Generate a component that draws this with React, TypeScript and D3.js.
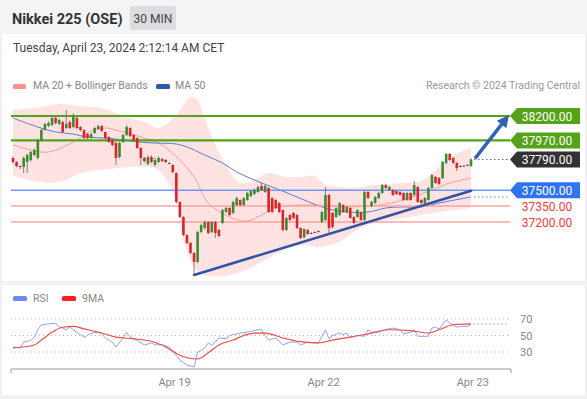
import * as d3 from 'd3';

// candles: [open, high, low, close], 30 min bars
const ohlc: [number, number, number, number][] = [
  [37804, 37820, 37750, 37766], [37766, 37775, 37715, 37728], [37728, 37735, 37700, 37719], [37719, 37815, 37662, 37804],
  [37766, 37845, 37662, 37832], [37785, 37870, 37770, 37860], [37832, 37895, 37820, 37879], [37804, 37985, 37790, 37974],
  [37974, 38080, 37960, 38068], [38068, 38135, 38060, 38125], [38106, 38150, 38095, 38134], [38115, 38200, 38105, 38181],
  [38181, 38195, 38120, 38134], [38125, 38175, 38115, 38162], [38143, 38155, 38040, 38049], [38087, 38257, 38075, 38125],
  [38143, 38160, 38075, 38087], [38096, 38228, 38085, 38191], [38181, 38195, 38075, 38087], [38096, 38105, 38055, 38068],
  [38068, 38075, 37980, 37992], [38030, 38040, 37980, 37992], [37992, 38040, 37985, 38030], [38040, 38095, 38030, 38087],
  [38077, 38120, 38070, 38106], [38106, 38115, 38050, 38058], [38049, 38055, 37980, 37992], [38002, 38010, 37945, 37955],
  [37974, 37985, 37915, 37926], [37945, 37955, 37738, 37804], [37813, 37955, 37800, 37945], [37955, 38030, 37945, 38021],
  [38021, 38115, 38010, 38096], [38087, 38095, 38000, 38011], [38021, 38030, 37965, 37974], [37992, 38000, 37890, 37898],
  [37898, 37905, 37738, 37804], [37804, 37815, 37760, 37775], [37747, 37830, 37735, 37813], [37813, 37830, 37755, 37766],
  [37738, 37810, 37725, 37785], [37766, 37820, 37755, 37804], [37794, 37805, 37765, 37775], [37785, 37795, 37755, 37766],
  [37757, 37765, 37745, 37752], [37738, 37745, 37660, 37672], [37662, 37670, 37375, 37389], [37389, 37395, 37235, 37247],
  [37247, 37255, 37065, 37077], [37077, 37085, 36990, 37002], [37002, 37010, 36895, 36908], [36908, 36915, 36700, 36823],
  [36823, 37115, 36810, 37106], [37106, 37185, 37095, 37172], [37143, 37215, 37130, 37200], [37200, 37210, 37085, 37096],
  [37106, 37210, 37095, 37200], [37200, 37210, 37049, 37096], [37125, 37135, 37055, 37068], [37191, 37325, 37180, 37313],
  [37294, 37345, 37285, 37332], [37332, 37340, 37255, 37266], [37285, 37400, 37275, 37389], [37360, 37440, 37350, 37426],
  [37408, 37415, 37350, 37360], [37360, 37435, 37350, 37426], [37408, 37485, 37400, 37474], [37445, 37500, 37435, 37492],
  [37464, 37515, 37455, 37502], [37483, 37545, 37475, 37530], [37540, 37568, 37495, 37502], [37483, 37550, 37475, 37540],
  [37521, 37530, 37285, 37294], [37426, 37435, 37285, 37294], [37408, 37415, 37320, 37332], [37379, 37390, 37285, 37294],
  [37313, 37320, 37110, 37125], [37125, 37245, 37115, 37238], [37266, 37275, 37210, 37219], [37285, 37295, 37225, 37238],
  [37266, 37275, 37135, 37143], [37143, 37150, 37040, 37049], [37058, 37140, 37045, 37134], [37125, 37135, 37080, 37087],
  [37096, 37105, 37085, 37092], [37106, 37110, 37095, 37101], [37115, 37120, 37100, 37110], [37200, 37305, 37190, 37294],
  [37219, 37530, 37210, 37455], [37455, 37465, 37077, 37143], [37285, 37295, 37140, 37153], [37247, 37340, 37240, 37332],
  [37266, 37390, 37255, 37379], [37360, 37370, 37285, 37294], [37294, 37350, 37285, 37342], [37332, 37340, 37230, 37238],
  [37247, 37255, 37180, 37191], [37247, 37320, 37240, 37313], [37294, 37300, 37210, 37219], [37219, 37495, 37210, 37483],
  [37483, 37495, 37415, 37426], [37351, 37400, 37340, 37389], [37379, 37445, 37370, 37436], [37426, 37485, 37415, 37474],
  [37474, 37560, 37465, 37549], [37549, 37560, 37510, 37521], [37502, 37540, 37495, 37530], [37502, 37510, 37445, 37455],
  [37492, 37500, 37455, 37464], [37483, 37490, 37445, 37455], [37474, 37480, 37400, 37408], [37408, 37485, 37400, 37474],
  [37474, 37480, 37400, 37408], [37455, 37587, 37445, 37549], [37530, 37540, 37380, 37389], [37408, 37415, 37370, 37379],
  [37379, 37435, 37370, 37426], [37408, 37530, 37400, 37521], [37521, 37655, 37510, 37643], [37625, 37635, 37560, 37568],
  [37615, 37625, 37550, 37558], [37615, 37775, 37605, 37766], [37757, 37850, 37745, 37842], [37842, 37850, 37775, 37785],
  [37804, 37815, 37745, 37757], [37757, 37765, 37681, 37709], [37728, 37735, 37715, 37723], [37728, 37738, 37720, 37732],
  [37735, 37745, 37730, 37740], [37728, 37800, 37720, 37790],
];

// indicator readings: [bar index, value]
const ma20 = [
  [0, 37926], [5, 37879], [10, 37860], [17, 37955], [21, 38040], [26, 38087], [29, 38068], [32, 38040], [37, 37992],
  [42, 37926], [47, 37785], [51, 37625], [55, 37379], [61, 37247], [66, 37209], [70, 37266], [75, 37342], [85, 37360],
  [94, 37342], [103, 37360], [110, 37408], [118, 37502], [123, 37568], [129, 37615],
];
const ma50 = [
  [0, 38181], [7, 38096], [12, 38049], [17, 38030], [21, 38002], [26, 37992], [31, 37974], [35, 37955], [40, 37945],
  [46, 37936], [49, 37908], [54, 37832], [59, 37757], [63, 37672], [68, 37596], [73, 37530], [78, 37464], [82, 37408],
  [87, 37342], [90, 37313], [94, 37294], [100, 37294], [105, 37332], [109, 37342], [115, 37342], [120, 37379], [129, 37436],
];
const bbUpper = [
  [0, 38257], [8, 38285], [13, 38313], [19, 38294], [25, 38275], [29, 38228], [33, 38181], [37, 38143], [41, 38087],
  [44, 38143], [47, 38257], [50, 38379], [52, 38351], [54, 38181], [57, 37926], [60, 37738], [64, 37568], [68, 37596],
  [72, 37662], [77, 37625], [81, 37625], [85, 37634], [88, 37549], [92, 37530], [96, 37521], [102, 37549], [109, 37568],
  [115, 37587], [119, 37691], [123, 37804], [129, 37908],
];
const bbLower = [
  [0, 37634], [10, 37568], [15, 37596], [19, 37662], [25, 37691], [33, 37719], [39, 37719], [41, 37691], [46, 37408],
  [48, 37030], [51, 36766], [54, 36700], [61, 36700], [67, 36766], [72, 36860], [78, 36955], [82, 36983], [86, 36964],
  [92, 37011], [96, 37106], [100, 37172], [106, 37219], [110, 37238], [115, 37266], [120, 37294], [129, 37332],
];

const rsi = [
  [0, 36], [2, 35], [3, 42], [5, 44], [6, 48], [7, 57], [8, 63], [10, 64], [12, 65], [13, 60], [14, 59], [15, 57],
  [16, 60], [17, 57], [18, 54], [20, 48], [21, 50], [22, 53], [24, 54], [25, 52], [26, 47], [28, 42], [29, 36],
  [31, 47], [32, 54], [33, 48], [35, 44], [37, 38.5], [39, 41], [40, 38.5], [42, 39], [44, 36], [46, 26], [47, 20],
  [49, 14], [51, 12], [52, 30], [53, 32], [54, 35], [55, 41], [56, 38], [58, 47], [60, 46], [61, 50], [64, 53],
  [66, 54], [69, 57], [70, 57], [71, 50], [72, 44.5], [74, 47], [76, 38.5], [78, 42], [80, 42], [81, 38.5], [83, 42],
  [85, 41], [86, 41], [88, 57], [89, 46], [90, 50], [92, 53], [93, 51], [94, 53], [95, 48], [97, 50], [99, 49],
  [100, 57], [101, 54], [103, 54], [105, 57.5], [107, 59], [109, 57], [110, 52], [112, 54], [113, 57], [114, 49],
  [117, 49], [118, 59], [119, 60], [120, 58], [122, 69], [123, 65], [125, 60], [126, 61], [128, 61], [129, 64],
];
const rsiMa = [
  [0, 35], [6, 38.5], [8, 44.5], [11, 54], [14, 60], [17, 61], [20, 58], [25, 53], [29, 48], [34, 46], [39, 43],
  [43, 36], [47, 26], [49, 23], [52, 21.5], [55, 29], [58, 38.5], [62, 44.5], [65, 50], [68, 53], [71, 53], [76, 47],
  [81, 42.5], [86, 41], [90, 44.5], [95, 48], [100, 52], [106, 57], [112, 56], [117, 53], [120, 57], [124, 63], [129, 64],
];
const rsiLevels = [70, 50, 30];

const resistances = [38200, 37970];
const pivot = 37500;
const supports = [37350, 37200];
const targetPrice = 38200;
const trendFrom = [51, 36700];
const trendTo = [129, 37495];

const xTickIdx = [45.5, 87.5, 129.5];
const xTickLabels = ['Apr 19', 'Apr 22', 'Apr 23'];

const FONT = "Roboto, 'Liberation Sans', Arial, sans-serif";
const GREEN = '#55a318';
const UP = '#3a8c30';
const DOWN = '#d8262b';

function Tag({ y, text, fill }: { y: number; text: string; fill: string }) {
  const h = 8;
  const pts = [[510, y], [517, y - h], [580, y - h], [580, y + h], [517, y + h]];
  return (
    <g>
      <polygon points={pts.map(p => p.join(',')).join(' ')} fill={fill} />
      <text x={547} y={y + 4.5} fill="#fff" fontSize={12} textAnchor="middle">{text}</text>
    </g>
  );
}

export default function App() {
  const x = d3.scaleLinear().domain([0, ohlc.length - 1]).range([13, 471]);
  const y = d3.scaleLinear().domain([37200, 38200]).range([222, 116]);
  const yR = d3.scaleLinear().domain([30, 70]).range([352, 319]);

  const smooth = d3.line<number[]>().x(d => x(d[0])).y(d => y(d[1])).curve(d3.curveCatmullRom);
  const bandPath = smooth(bbUpper) + 'L' + (smooth(bbLower.slice().reverse()) || '').slice(1) + 'Z';
  const rsiLine = d3.line<number[]>().x(d => x(d[0])).y(d => yR(d[1]));
  const rsiMaLine = d3.line<number[]>().x(d => x(d[0])).y(d => yR(d[1])).curve(d3.curveMonotoneX);

  const last = ohlc[ohlc.length - 1];
  const lastPrice = last[3];
  const lastX = x(ohlc.length - 1);
  const lastMa50 = ma50[ma50.length - 1][1];
  const lastRsi = rsi[rsi.length - 1][1];

  // arrow towards target
  const ax0 = lastX + 4, ay0 = y(lastPrice) - 1;
  const ax1 = 509, ay1 = y(targetPrice) - 1;
  const ang = Math.atan2(ay1 - ay0, ax1 - ax0);
  const hl = 12, hw = 6;
  const bx = ax1 - hl * Math.cos(ang), by = ay1 - hl * Math.sin(ang);
  const head = [
    [ax1, ay1],
    [bx + hw * Math.sin(ang), by - hw * Math.cos(ang)],
    [bx - hw * Math.sin(ang), by + hw * Math.cos(ang)],
  ];

  const cw = 2.6;

  return (
    <svg width={587} height={399} style={{ position: 'absolute', left: 0, top: 0, fontFamily: FONT }}>
      <rect width={587} height={399} fill="#fff" />
      {/* header */}
      <rect width={587} height={34} fill="#f4f4f4" />
      <text x={12} y={24} fontSize={14.5} fontWeight="bold" fill="#333">Nikkei 225 (OSE)</text>
      <rect x={130} y={6} width={46} height={24} rx={2} fill="#dcdde1" />
      <text x={153} y={22.5} fontSize={12} fill="#444" textAnchor="middle">30 MIN</text>
      <text x={13} y={52} fontSize={12} fill="#444">Tuesday, April 23, 2024 2:12:14 AM CET</text>
      {/* frame */}
      <rect x={0} y={34} width={2} height={365} fill="#f0f0f0" />
      <rect x={585} y={34} width={2} height={365} fill="#f0f0f0" />
      <rect x={0} y={281} width={587} height={4} fill="#f2f2f2" />
      <rect x={0} y={395} width={587} height={4} fill="#f2f2f2" />

      {/* legend */}
      <rect x={13} y={84} width={13} height={5} rx={1.5} fill="#ff8f8f" />
      <text x={33} y={89} fontSize={10.5} fill="#888">MA 20 + Bollinger Bands</text>
      <rect x={156} y={84} width={14} height={5} rx={1.5} fill="#2d5ba8" />
      <text x={175} y={89} fontSize={10.5} fill="#888">MA 50</text>
      <text x={580} y={89} fontSize={10.5} fill="#999" textAnchor="end">Research © 2024 Trading Central</text>

      {/* bands + averages */}
      <path d={bandPath} fill="#ffdcdc" opacity={0.8} />
      <path d={smooth(ma20) || ''} fill="none" stroke="#ff9b9b" strokeWidth={1} />
      <path d={smooth(ma50) || ''} fill="none" stroke="#5b7ec4" strokeWidth={1} />
      <line x1={lastX + 3} x2={508} y1={y(lastMa50)} y2={y(lastMa50)} stroke="#6d8fd0" strokeDasharray="1.5,2.5" />

      {/* levels */}
      {resistances.map(v => (
        <line key={v} x1={11} x2={510} y1={y(v)} y2={y(v)} stroke={GREEN} strokeWidth={2.2} />
      ))}
      <line x1={11} x2={510} y1={y(pivot)} y2={y(pivot)} stroke="#6d9af5" strokeWidth={1.5} />
      {supports.map(v => (
        <line key={v} x1={11} x2={510} y1={y(v)} y2={y(v)} stroke="#ffa3a3" strokeWidth={1.5} />
      ))}
      <line x1={lastX + 3} x2={508} y1={y(lastPrice)} y2={y(lastPrice)} stroke="#666" strokeDasharray="1.5,2.5" />

      {/* trend line */}
      <line x1={x(trendFrom[0])} y1={y(trendFrom[1])} x2={x(trendTo[0])} y2={y(trendTo[1])}
        stroke="#2f54a0" strokeWidth={2.5} strokeLinecap="round" />

      {/* candles */}
      {ohlc.map((d, i) => {
        const [o, h, l, c] = d;
        const cx = x(i);
        const col = Math.abs(c - o) < 8 ? '#555' : c > o ? UP : DOWN;
        const top = y(Math.max(o, c));
        const bh = Math.max(1, y(Math.min(o, c)) - top);
        return (
          <g key={i}>
            <line x1={cx} x2={cx} y1={y(h)} y2={y(l)} stroke="#666" strokeWidth={0.8} />
            <rect x={cx - cw / 2} y={top} width={cw} height={bh} fill={col} />
          </g>
        );
      })}

      {/* arrow */}
      <line x1={ax0} y1={ay0} x2={bx} y2={by} stroke="#2f62b0" strokeWidth={3.5} />
      <polygon points={head.map(p => p.join(',')).join(' ')} fill="#2f62b0" />

      {/* price tags */}
      {resistances.map(v => <Tag key={v} y={y(v)} text={v.toFixed(2)} fill={GREEN} />)}
      <Tag y={y(lastPrice)} text={lastPrice.toFixed(2)} fill="#333" />
      <Tag y={y(pivot)} text={pivot.toFixed(2)} fill="#2f74ee" />
      {supports.map(v => (
        <text key={v} x={547} y={y(v) + 4.5} fontSize={12} fill="#f03c3c" textAnchor="middle">{v.toFixed(2)}</text>
      ))}

      {/* RSI panel */}
      <rect x={13} y={296} width={14} height={5} rx={1.5} fill="#6a8ef0" />
      <text x={33} y={302} fontSize={10.5} fill="#888">RSI</text>
      <rect x={62} y={296} width={14} height={5} rx={1.5} fill="#ff2020" />
      <text x={82} y={302} fontSize={10.5} fill="#888">9MA</text>
      {rsiLevels.map(v => (
        <g key={v}>
          <line x1={11} x2={508} y1={yR(v)} y2={yR(v)} stroke="#bbb" strokeDasharray="1,3" />
          <text x={520} y={yR(v) + 4} fontSize={11} fill="#888">{v}</text>
        </g>
      ))}
      <path d={rsiLine(rsi) || ''} fill="none" stroke="#8ca7f2" strokeWidth={1} />
      <path d={rsiMaLine(rsiMa) || ''} fill="none" stroke="#f04a4a" strokeWidth={1.2} />
      <line x1={lastX + 2} x2={508} y1={yR(lastRsi)} y2={yR(lastRsi)} stroke="#8ca7f2" strokeDasharray="1.5,2.5" />

      {/* x axis */}
      <path d="M11,373V369H511V373" fill="none" stroke="#999" strokeWidth={1} />
      {xTickIdx.map((t, i) => (
        <text key={i} x={x(t)} y={386} fontSize={11} fill="#888" textAnchor="middle">{xTickLabels[i]}</text>
      ))}
    </svg>
  );
}
